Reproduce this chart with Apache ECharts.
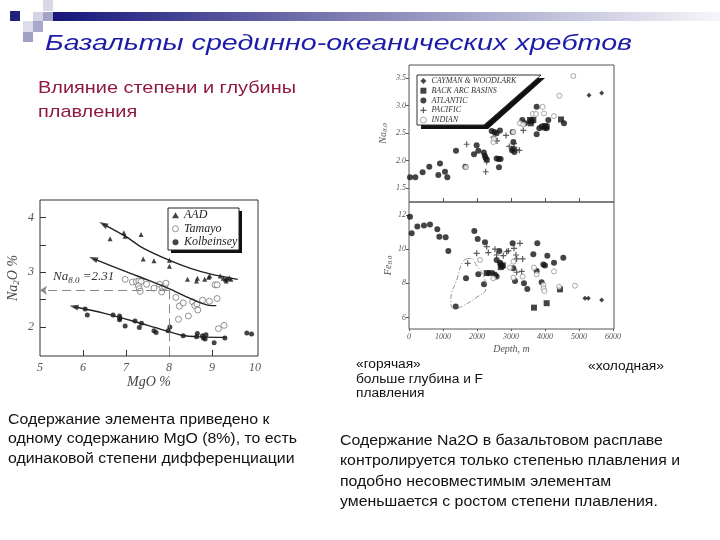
<!DOCTYPE html>
<html><head><meta charset="utf-8">
<script src="https://cdn.jsdelivr.net/npm/echarts@6/dist/echarts.min.js"></script>
<style>html,body{margin:0;padding:0;background:#fff}#c{width:720px;height:540px}</style>
</head><body><div id="c"></div>
<script>
// ---------- Left chart: Na2O % vs MgO % ----------
const aadPts = [[6.63,3.61],[6.95,3.72],[6.98,3.66],[7.35,3.69],[7.40,3.24],[7.65,3.21],[8.01,3.22],[8.01,3.11],[8.43,2.87],[8.64,2.84],[8.66,2.89],[8.83,2.87],[8.92,2.91],[8.95,2.93],[9.19,2.93],[9.26,2.89],[9.31,2.87],[9.35,2.88],[9.40,2.90],[9.44,2.87],[9.33,2.84]];
const tamayoPts = [[6.98,2.87],[7.15,2.82],[7.24,2.83],[7.30,2.84],[7.35,2.83],[7.29,2.75],[7.31,2.70],[7.33,2.65],[7.48,2.78],[7.65,2.71],[7.78,2.78],[7.85,2.72],[7.90,2.74],[7.93,2.80],[7.83,2.64],[8.16,2.54],[8.24,2.38],[8.33,2.44],[8.22,2.14],[8.45,2.20],[8.55,2.46],[8.60,2.39],[8.65,2.42],[8.67,2.31],[8.78,2.49],[8.94,2.47],[9.07,2.77],[9.12,2.77],[9.12,2.52],[9.15,1.97],[9.28,2.03]];
const kolbPts = [[6.05,2.33],[6.10,2.22],[6.70,2.22],[6.85,2.20],[6.86,2.16],[6.85,2.13],[6.98,2.02],[7.21,2.11],[7.31,1.99],[7.36,2.07],[7.65,1.93],[7.70,1.90],[7.98,1.93],[8.02,2.00],[8.33,1.84],[8.64,1.82],[8.66,1.88],[8.78,1.84],[8.80,1.80],[8.84,1.78],[8.86,1.86],[9.05,1.71],[9.30,1.80],[9.81,1.89],[9.92,1.87]];
const aadTrend = [[6.47,3.88],[7.0,3.65],[7.4,3.44],[8.0,3.22],[8.5,3.07],[9.0,2.96],[9.6,2.87]];
const tamayoTrend = [[6.24,3.25],[7.0,3.01],[7.5,2.86],[8.0,2.70],[8.5,2.52],[8.9,2.40],[9.1,2.39]];
const kolbTrend = [[5.79,2.37],[6.5,2.25],[7.2,2.10],[7.8,1.96],[8.3,1.85],[8.7,1.82],[9.33,1.81]];
const mgRef = 8;      // MgO = 8 %
const naGuide = 2.67; // dashed guide level
const leftXTicks = [5,6,7,8,9,10];
const leftYTicks = [2,3,4];
const leftYMinor = [2,2.5,3,3.5,4];

// ---------- Right charts: Na8.0 and Fe8.0 vs depth ----------
const atlNa = [[29,1.70],[185,1.70],[400,1.79],[597,1.89],[912,1.95],[863,1.74],[1059,1.80],[1127,1.70],[1382,2.18],[1657,1.89],[1912,2.12],[1990,2.28],[2039,2.18],[2200,2.15],[2230,2.09],[2255,2.05],[2290,2.02],[2431,2.54],[2510,2.52],[2578,2.50],[2578,2.04],[2640,2.03],[2696,2.03],[2647,1.88],[2676,2.55],[3049,2.52],[3069,2.34],[3030,2.19],[3070,2.22],[3100,2.16],[3333,2.74],[3412,2.68],[3755,2.98],[3755,2.48],[3833,2.59],[3902,2.62],[3980,2.60],[4040,2.59],[4098,2.74],[4559,2.68]];
const backArcNa = [[3559,2.74],[3600,2.72],[3657,2.74],[3580,2.68],[4000,2.63],[4050,2.62],[4471,2.75]];
const caymanNa = [[5294,3.19],[5667,3.23]];
const pacificNa = [[1696,2.30],[2284,1.98],[2255,1.80],[2480,2.43],[2530,2.40],[2590,2.36],[2853,2.46],[2951,2.26],[3088,2.31],[3167,2.20],[3245,2.19],[3362,2.55]];
const indianNa = [[1676,1.88],[2480,2.34],[2500,2.40],[3068,2.52],[3265,2.68],[3362,2.66],[3637,2.85],[3735,2.85],[3931,2.98],[3971,2.86],[4265,2.81],[4421,3.18],[4833,3.54]];

const atlFe = [[29,11.9],[79,10.93],[245,11.32],[441,11.38],[618,11.45],[833,11.16],[892,10.73],[1078,10.70],[1157,9.9],[1676,8.3],[1922,11.06],[2020,10.6],[2039,8.53],[2206,7.95],[2235,10.4],[1373,6.64],[2350,8.6],[2450,8.6],[2530,8.5],[2578,8.4],[2578,9.37],[2657,9.9],[2700,9.1],[2740,9.0],[2680,9.2],[3049,10.35],[3069,8.88],[3118,8.14],[3382,8.0],[3480,7.67],[3657,9.7],[3755,8.72],[3775,10.35],[3902,8.07],[3951,9.1],[4000,9.05],[4069,9.62],[4265,9.2],[4539,9.5]];
const backArcFe = [[3676,6.58],[4049,6.84],[4441,7.65],[2284,8.6],[2700,8.95],[2760,9.05]];
const caymanFe = [[5176,7.13],[5275,7.13],[5667,7.03]];
const pacificFe = [[1725,9.17],[1990,9.76],[2284,10.15],[2333,9.8],[2529,10.0],[2578,9.66],[2774,9.62],[2873,9.85],[2922,9.9],[3088,10.05],[3147,9.66],[3167,9.43],[3265,10.34],[3343,9.43],[3167,8.65],[3314,8.7]];
const indianFe = [[2088,9.37],[2480,8.3],[2971,8.92],[3069,9.27],[3069,8.33],[3343,8.4],[3676,8.92],[3755,8.53],[3951,7.9],[3960,7.7],[3980,7.55],[4265,8.7],[4412,7.8],[4882,7.86]];
const hotLoop = [[1720,9.45],[1580,9.25],[1420,8.3],[1230,7.0],[1330,6.5],[1550,6.65],[2000,7.2],[2260,7.7],[2200,8.4],[2000,9.0],[1820,9.45],[1720,9.45]];
const depthTicks = [0,1000,2000,3000,4000,5000,6000];
const naTicks = [1.5,2.0,2.5,3.0,3.5];
const feTicks = [6,8,10,12];
const legendRight = ['CAYMAN & WOODLARK','BACK ARC BASINS','ATLANTIC','PACIFIC','INDIAN'];
const legendLeft = ['AAD','Tamayo','Kolbeinsey'];

// ---------- layout ----------
const G0 = {left:40, top:200, width:218, height:156};
const G1 = {left:409, top:65, width:205, height:137};
const G2 = {left:409, top:202, width:205, height:127};
const X0 = [5, 10.07], Y0 = [1.47, 4.32];
const XR = [0, 6030], Y1 = [1.25, 3.74], Y2 = [5.33, 12.76];

const SERIF = '"Liberation Serif", "DejaVu Serif", serif';
const SANS = '"Liberation Sans", Arial, sans-serif';
const mctx = document.createElement('canvas').getContext('2d');
function measure(font, t){ mctx.font = font; return mctx.measureText(t).width; }
function para(lines, x, y0, lh, size, style, color, targetW, refIdx){
  const font = style + ' ' + size + 'px ' + SANS;
  const s = targetW / measure(font, lines[refIdx]);
  return lines.map((t,i)=>({type:'text', x:x, y:y0+i*lh, scaleX:s, z:20,
    style:{text:t, font:font, fill:color, verticalAlign:'middle', textVerticalAlign:'middle'}}));
}
function arrowRot(tr, xr, yr, g){
  const dx = (tr[0][0]-tr[1][0]) * g.width/(xr[1]-xr[0]);
  const dy = (tr[0][1]-tr[1][1]) * g.height/(yr[1]-yr[0]);
  return Math.atan2(dy, dx)*180/Math.PI - 90;
}
const plusPath = 'path://M4,0H6V4H10V6H6V10H4V6H0V4H4Z';
const openStyle = (c)=>({color:'#fff', borderColor:c, borderWidth:0.8});
const thinIcon = ['Tamayo','INDIAN'];
const legendItems = (names)=>names.map(n=>thinIcon.includes(n) ? {name:n, itemStyle:{borderWidth:0.8}} : n);

const tickLbl = (size)=>({fontFamily:SERIF, fontStyle:'italic', fontSize:size, color:'#555'});

const graphics = [];
// header decoration
graphics.push({type:'rect', z:1, shape:{x:53,y:12,width:667,height:9},
  style:{fill:new echarts.graphic.LinearGradient(0,0,1,0,[{offset:0,color:'#16167c'},{offset:0.45,color:'#8080b4'},{offset:1,color:'#f6f6fa'}])}});
[[10,11,10,10,'#22227a'],[33,12,10,9,'#d4d4e4'],[43,12,10,9,'#a4a4c6'],[43,0,10,11,'#d8d8e6'],
 [23,21,10,11,'#dcdcea'],[33,21,10,11,'#a8a8c8'],[23,32,10,10,'#a0a0c0']].forEach(r=>{
  graphics.push({type:'rect', z:1, shape:{x:r[0],y:r[1],width:r[2],height:r[3]}, style:{fill:r[4]}});
});
// texts
graphics.push(...para(['Базальты срединно-океанических хребтов'], 45, 44, 0, 22, 'italic', '#1c1ca8', 587, 0));
graphics.push(...para(['Влияние степени и глубины','плавления'], 38, 88, 24, 17, 'normal', '#8e1a3c', 258, 0));
graphics.push(...para(['Содержание элемента приведено к','одному содержанию MgO (8%), то есть','одинаковой степени дифференциации'], 8, 420, 19.5, 14, 'normal', '#111', 289, 1));
graphics.push(...para(['«горячая»','больше глубина и F','плавления'], 356, 365, 14.5, 12, 'normal', '#111', 127, 1));
graphics.push(...para(['«холодная»'], 588, 367, 0, 12, 'normal', '#111', 76, 0));
graphics.push(...para(['Содержание Na2O в базальтовом расплаве','контролируется только степенью плавления и','подобно несовместимым элементам','уменьшается с ростом степени плавления.'], 340, 441, 20.5, 14, 'normal', '#111', 340, 1));
// legend boxes
graphics.push({type:'rect', z:3, shape:{x:171,y:211,width:71,height:42}, style:{fill:'#111'}});
graphics.push({type:'rect', z:3, shape:{x:168,y:208,width:71,height:42}, style:{fill:'#fff', stroke:'#222', lineWidth:1}});
graphics.push({type:'polygon', z:3, shape:{points:[[421,78],[545,78],[488,129],[421,129]]}, style:{fill:'#111'}});
graphics.push({type:'polygon', z:3, shape:{points:[[417,75],[541,75],[484,125],[417,125]]}, style:{fill:'#fff', stroke:'#333', lineWidth:1}});
// Na8.0 annotation
graphics.push({type:'text', z:20, x:53, y:277, style:{text:'{i|Na}{s|8.0}{i| =2.31}', verticalAlign:'middle', textVerticalAlign:'middle',
  rich:{i:{font:'italic 13px '+SERIF, fill:'#333'}, s:{font:'italic 9px '+SERIF, fill:'#333', padding:[7,0,0,0]}}}});

const blk = '#151515';
const option = {
  animation:false,
  backgroundColor:'#fff',
  grid:[
    Object.assign({show:true, borderColor:'#333', borderWidth:1, backgroundColor:'transparent'}, G0),
    Object.assign({show:true, borderColor:'#555', borderWidth:1, backgroundColor:'transparent'}, G1),
    Object.assign({show:true, borderColor:'#555', borderWidth:1, backgroundColor:'transparent'}, G2)
  ],
  xAxis:[
    {gridIndex:0, type:'value', min:X0[0], max:X0[1], axisLine:{show:false}, splitLine:{show:false},
     axisTick:{inside:true, length:6, customValues:leftXTicks.slice(1,5), lineStyle:{color:'#333'}},
     axisLabel:Object.assign({customValues:leftXTicks, margin:6}, tickLbl(12)),
     name:'MgO %', nameLocation:'middle', nameGap:18, nameTextStyle:{fontFamily:SERIF, fontStyle:'italic', fontSize:14, color:'#444'}},
    {gridIndex:1, type:'value', min:XR[0], max:XR[1], axisLine:{show:false}, splitLine:{show:false},
     axisTick:{inside:true, length:4, customValues:depthTicks.slice(1,6), lineStyle:{color:'#555'}},
     axisLabel:{show:false}},
    {gridIndex:2, type:'value', min:XR[0], max:XR[1], axisLine:{show:false}, splitLine:{show:false},
     axisTick:{inside:false, length:2, customValues:depthTicks, lineStyle:{color:'#555'}},
     axisLabel:Object.assign({customValues:depthTicks, margin:4, formatter:v=>String(v)}, tickLbl(8)),
     name:'Depth, m', nameLocation:'middle', nameGap:15, nameTextStyle:{fontFamily:SERIF, fontStyle:'italic', fontSize:10, color:'#555'}}
  ],
  yAxis:[
    {gridIndex:0, type:'value', min:Y0[0], max:Y0[1], axisLine:{show:false}, splitLine:{show:false},
     axisTick:{inside:true, length:6, customValues:leftYMinor, lineStyle:{color:'#333'}},
     axisLabel:Object.assign({customValues:leftYTicks, margin:6}, tickLbl(12)),
     name:'{a|Na}{s|2}{a|O %}', nameLocation:'middle', nameGap:19, nameRotate:90,
     nameTextStyle:{rich:{a:{fontFamily:SERIF, fontStyle:'italic', fontSize:14, color:'#444'}, s:{fontFamily:SERIF, fontStyle:'italic', fontSize:9, color:'#444', padding:[6,0,0,0]}}}},
    {gridIndex:1, type:'value', min:Y1[0], max:Y1[1], axisLine:{show:false}, splitLine:{show:false},
     axisTick:{inside:false, length:3, customValues:naTicks, lineStyle:{color:'#555'}},
     axisLabel:Object.assign({customValues:naTicks, margin:3, formatter:v=>v.toFixed(1)}, tickLbl(8)),
     name:'{a|Na}{s|8.0}', nameLocation:'middle', nameGap:20, nameRotate:90,
     nameTextStyle:{rich:{a:{fontFamily:SERIF, fontStyle:'italic', fontSize:10, color:'#555'}, s:{fontFamily:SERIF, fontStyle:'italic', fontSize:7, color:'#555', padding:[4,0,0,0]}}}},
    {gridIndex:2, type:'value', min:Y2[0], max:Y2[1], axisLine:{show:false}, splitLine:{show:false},
     axisTick:{inside:false, length:3, customValues:feTicks, lineStyle:{color:'#555'}},
     axisLabel:Object.assign({customValues:feTicks, margin:3}, tickLbl(8)),
     name:'{a|Fe}{s|8.0}', nameLocation:'middle', nameGap:14, nameRotate:90,
     nameTextStyle:{rich:{a:{fontFamily:SERIF, fontStyle:'italic', fontSize:10, color:'#555'}, s:{fontFamily:SERIF, fontStyle:'italic', fontSize:7, color:'#555', padding:[4,0,0,0]}}}}
  ],
  legend:[
    {data:legendItems(legendLeft), left:172, top:209, padding:0, orient:'vertical', itemGap:1, itemWidth:7, itemHeight:6, selectedMode:false, z:10,
     textStyle:{fontFamily:SERIF, fontStyle:'italic', fontSize:12, lineHeight:12.5, color:'#222'}},
    {data:legendItems(legendRight), left:420, top:76, padding:0, orient:'vertical', itemGap:0, itemWidth:6, itemHeight:6, selectedMode:false, z:10,
     textStyle:{fontFamily:SERIF, fontStyle:'italic', fontSize:8, lineHeight:9.8, color:'#333'}}
  ],
  graphic:{elements:graphics},
  series:[
    {name:'AAD', type:'scatter', xAxisIndex:0, yAxisIndex:0, data:aadPts, symbol:'triangle', symbolSize:5, itemStyle:{color:blk}},
    {name:'Tamayo', type:'scatter', xAxisIndex:0, yAxisIndex:0, data:tamayoPts, symbol:'circle', symbolSize:6, itemStyle:openStyle('#555')},
    {name:'Kolbeinsey', type:'scatter', xAxisIndex:0, yAxisIndex:0, data:kolbPts, symbol:'circle', symbolSize:5, itemStyle:{color:blk},
     markLine:{silent:true, symbolSize:7, label:{show:false}, lineStyle:{type:[9,5], color:'#888', width:1},
       data:[[{coord:[mgRef,naGuide], symbol:'none'},{coord:[X0[0],naGuide], symbol:'arrow'}],
             [{coord:[mgRef,naGuide], symbol:'none'},{coord:[mgRef,Y0[0]], symbol:'none'}]]}},
    ...[aadTrend, tamayoTrend, kolbTrend].map(tr=>({type:'line', xAxisIndex:0, yAxisIndex:0, data:tr, smooth:0.3, symbol:'none', lineStyle:{color:'#222', width:1.4}, z:3})),
    {type:'scatter', xAxisIndex:0, yAxisIndex:0, symbol:'triangle', symbolSize:[6,9], itemStyle:{color:'#222'}, z:3,
     data:[aadTrend, tamayoTrend, kolbTrend].map(tr=>({value:tr[0], symbolRotate:arrowRot(tr, X0, Y0, G0)}))},

    {name:'CAYMAN & WOODLARK', type:'scatter', xAxisIndex:1, yAxisIndex:1, data:caymanNa, symbol:'diamond', symbolSize:5, itemStyle:{color:blk}},
    {name:'BACK ARC BASINS', type:'scatter', xAxisIndex:1, yAxisIndex:1, data:backArcNa, symbol:'rect', symbolSize:6, itemStyle:{color:blk}},
    {name:'ATLANTIC', type:'scatter', xAxisIndex:1, yAxisIndex:1, data:atlNa, symbol:'circle', symbolSize:6, itemStyle:{color:blk}},
    {name:'PACIFIC', type:'scatter', xAxisIndex:1, yAxisIndex:1, data:pacificNa, symbol:plusPath, symbolSize:6, itemStyle:{color:'#333'}},
    {name:'INDIAN', type:'scatter', xAxisIndex:1, yAxisIndex:1, data:indianNa, symbol:'circle', symbolSize:5, itemStyle:openStyle('#777')},

    {name:'CAYMAN & WOODLARK', type:'scatter', xAxisIndex:2, yAxisIndex:2, data:caymanFe, symbol:'diamond', symbolSize:5, itemStyle:{color:blk}},
    {name:'BACK ARC BASINS', type:'scatter', xAxisIndex:2, yAxisIndex:2, data:backArcFe, symbol:'rect', symbolSize:6, itemStyle:{color:blk}},
    {name:'ATLANTIC', type:'scatter', xAxisIndex:2, yAxisIndex:2, data:atlFe, symbol:'circle', symbolSize:6, itemStyle:{color:blk}},
    {name:'PACIFIC', type:'scatter', xAxisIndex:2, yAxisIndex:2, data:pacificFe, symbol:plusPath, symbolSize:6, itemStyle:{color:'#333'}},
    {name:'INDIAN', type:'scatter', xAxisIndex:2, yAxisIndex:2, data:indianFe, symbol:'circle', symbolSize:5, itemStyle:openStyle('#777')},
    {type:'line', xAxisIndex:2, yAxisIndex:2, data:hotLoop, smooth:0.5, symbol:'none', lineStyle:{color:'#777', width:0.8, type:[5,2,1,2]}}
  ]
};
const chart = echarts.init(document.getElementById('c'), null, {renderer:'canvas', width:720, height:540});
chart.setOption(option);
</script>
</body></html>
